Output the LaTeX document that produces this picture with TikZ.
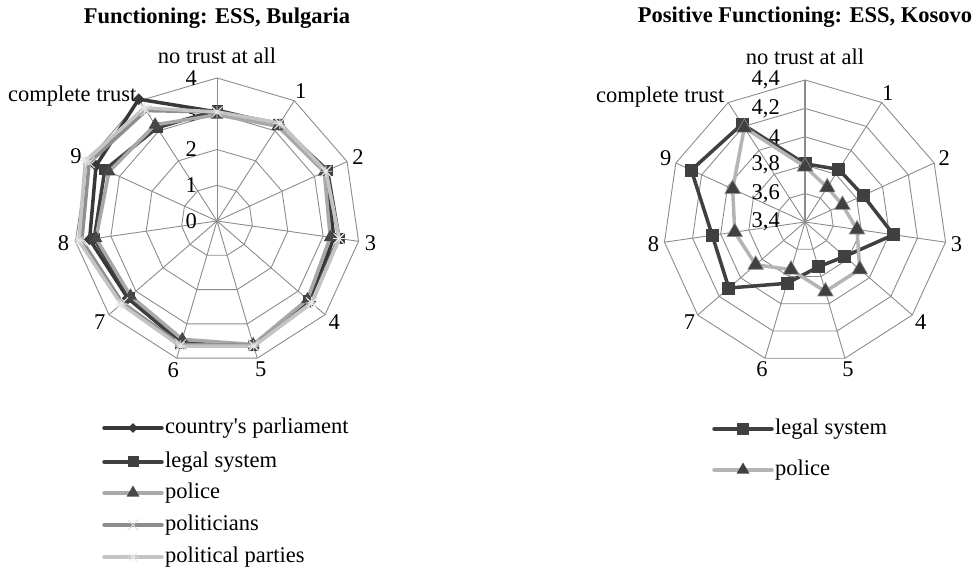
\documentclass[tikz,border=0pt]{standalone}
\usepackage{fontspec}
\setmainfont{Liberation Serif}
\usetikzlibrary{calc,shapes.geometric,shapes.misc}
\definecolor{gridc}{HTML}{8C8C8C}
\definecolor{parlc}{HTML}{383838}
\definecolor{legalc}{HTML}{404040}
\definecolor{policec}{HTML}{A8A8A8}
\definecolor{politc}{HTML}{8E8E8E}
\definecolor{partyc}{HTML}{C4C4C4}
\definecolor{markc}{HTML}{474747}
\definecolor{kpolc}{HTML}{B4B4B4}
\tikzset{
  web/.style={draw=gridc,line width=0.9pt},
  serline/.style={line width=3.5pt,line join=round,line cap=round},
  mkdia/.style={diamond,fill=parlc,inner sep=0pt,minimum size=12pt},
  mksq/.style={rectangle,fill=legalc,inner sep=0pt,minimum size=11pt},
  mkbigsq/.style={mksq,minimum size=13pt},
  mktri/.style={regular polygon,regular polygon sides=3,fill=markc,inner sep=0pt,minimum size=15pt},
  mkbigtri/.style={mktri,fill=legalc,draw=gridc,line width=0.6pt,minimum size=18pt},
  mkx/.style={cross out,draw=partyc!60!white,line width=1pt,inner sep=0pt,minimum size=10pt},
  mkstar/.style={circle,inner sep=0pt,minimum size=12pt,
    path picture={\draw[white!60!partyc,line width=0.9pt]
      (path picture bounding box.north)--(path picture bounding box.south)
      (path picture bounding box.east)--(path picture bounding box.west)
      (path picture bounding box.north east)--(path picture bounding box.south west)
      (path picture bounding box.north west)--(path picture bounding box.south east);}},
  ticklbl/.style={anchor=east,inner sep=0pt},
  axlbl/.style={inner sep=1pt},
  ttl/.style={font=\fontsize{22.5}{27}\selectfont\bfseries},
}
% grid of a radar chart: centre, radius, number of rings
\newcommand{\webgrid}[3]{%
  \foreach \j in {1,...,#3}
    \draw[web,shift={(#1)}] plot[samples at={0,...,10}] ({90-\x*360/11}:{#2*\j/#3}) -- cycle;
  \foreach \k in {0,...,10} \draw[web] (#1) -- ($(#1)+({90-\k*360/11}:#2)$);}
% points of one series: name, centre, base value, unit, values
\newcommand{\radarpts}[5]{%
  \foreach \v [count=\k from 0] in {#5}
    \coordinate (#1-\k) at ($(#2)+({90-\k*360/11}:{(\v-#3)*#4})$);}
\newcommand{\radarline}[3]{%
  \draw[serline,#2] (#1-0) \foreach \k in {1,...,10} {-- (#1-\k)} -- cycle;
  \foreach \k in {0,...,10} \node[#3] (#1m\k) at (#1-\k) {};}
\newcommand{\legrow}[5]{%
  \coordinate (#1a) at (#2);
  \coordinate (#1b) at ($(#1a)+(58,0)$);
  \draw[serline,#3] (#1a) -- (#1b);
  \node[#4] (#1m) at ($(#1a)!0.5!(#1b)$) {};
  \node[anchor=west,inner sep=3pt] (#1t) at (#1b) {#5};}

\begin{document}
\begin{tikzpicture}[x=1pt,y=1pt,font=\fontsize{22.5}{27}\selectfont]
  \useasboundingbox (0,0) rectangle (977,570);
  % Bulgaria
  \coordinate (BG) at (217,349);
  \webgrid{BG}{143}{4}
  \node[ttl] (bgtitle) at (217,552) {Functioning: ESS, Bulgaria};
  \foreach \t in {0,...,4} \node[ticklbl] (bgt\t) at ($(BG)+(-20,\t*35.75)$) {\t};
  \node[axlbl] (bgtop) at ($(BG)+(0,165)$) {no trust at all};
  \foreach \k in {1,...,9} \node[axlbl] (bgax\k) at ($(BG)+({90-\k*360/11}:155)$) {\k};
  \node[anchor=east,inner sep=0pt] (bgct) at ($(BG)+({90+360/11}:149)$) {complete trust};
  \radarpts{pa}{BG}{0}{35.75}{3.05,3.2,3.35,3.3,3.45,3.62,3.55,3.3,3.6,3.72,4.05}
  \radarpts{ls}{BG}{0}{35.75}{3.1,3.2,3.4,3.45,3.4,3.62,3.58,3.25,3.47,3.45,3.1}
  \radarpts{po}{BG}{0}{35.75}{2.97,3.15,3.3,3.2,3.35,3.6,3.45,3.2,3.42,3.32,3.2}
  \radarpts{pl}{BG}{0}{35.75}{3.05,3.25,3.35,3.45,3.5,3.62,3.6,3.5,3.82,3.93,3.67}
  \radarpts{pp}{BG}{0}{35.75}{3.05,3.25,3.35,3.45,3.5,3.65,3.65,3.55,3.9,4.05,3.76}
  \radarline{pa}{parlc}{mkdia}
  \radarline{ls}{legalc}{mksq}
  \radarline{po}{policec}{mktri}
  \radarline{pl}{politc}{mkx}
  \radarline{pp}{partyc}{mkstar}
  \legrow{lga}{104,142}{parlc}{mkdia,minimum size=10pt}{country\textquotesingle s parliament}
  \legrow{lgb}{104,108}{legalc}{mksq}{legal system}
  \legrow{lgc}{104,77}{policec}{mktri}{police}
  \legrow{lgd}{104,45}{politc}{mkx}{politicians}
  \legrow{lge}{104,13}{partyc}{mkstar}{political parties}

  % Kosovo
  \coordinate (KO) at (805,348);
  \webgrid{KO}{142}{5}
  \draw[web,line width=1.6pt] (KO) -- ($(KO)+(90:142)$);
  \node[ttl] (kotitle) at (805,553) {Positive Functioning: ESS, Kosovo};
  \foreach \t [count=\j from 0] in {{3,4},{3,6},{3,8},4,{4,2},{4,4}}
    \node[ticklbl] (kot\j) at ($(KO)+(-25,\j*28.4)$) {\t};
  \node[axlbl] (kotop) at ($(KO)+(0,165)$) {no trust at all};
  \foreach \k in {1,...,9} \node[axlbl] (koax\k) at ($(KO)+({90-\k*360/11}:153)$) {\k};
  \node[anchor=east,inner sep=0pt] (koct) at ($(KO)+({90+360/11}:149)$) {complete trust};
  \radarpts{kl}{KO}{3.4}{142}{3.81,3.84,3.85,4.03,3.77,3.73,3.85,4.11,4.06,4.28,4.22}
  \radarpts{kp}{KO}{3.4}{142}{3.79,3.69,3.69,3.77,3.91,3.91,3.75,3.86,3.90,3.96,4.19}
  \radarline{kl}{legalc}{mkbigsq}
  \radarline{kp}{kpolc}{mkbigtri}
  \legrow{lkl}{714,141}{legalc}{mksq,minimum size=12pt}{legal system}
  \legrow{lkp}{714,100}{kpolc}{mktri,fill=legalc}{police}
\end{tikzpicture}
\end{document}
